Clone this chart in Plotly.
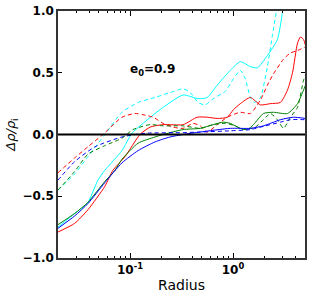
import math
import plotly.graph_objects as go

# ---- data (radius, delta rho / rho_i) ----
cyan_solid_r = [0.02, 0.029, 0.039, 0.0488, 0.057, 0.0836, 0.1045, 0.175, 0.21, 0.328, 0.459, 0.562, 0.703, 0.941, 1.178, 1.474, 1.725, 2.158, 2.70, 3.02, 3.16]
cyan_solid_v = [-0.75, -0.64, -0.55, -0.37, -0.29, -0.13, 0.01, 0.17, 0.22, 0.32, 0.29, 0.30, 0.40, 0.52, 0.59, 0.55, 0.54, 0.64, 0.77, 0.99, 1.10]

cyan_dash_r = [0.02, 0.029, 0.039, 0.057, 0.0836, 0.120, 0.175, 0.245, 0.328, 0.384, 0.459, 0.537, 0.643, 0.841, 1.007, 1.178, 1.318, 1.474, 1.61, 1.845, 2.158, 2.41, 2.64, 2.76]
cyan_dash_v = [-0.45, -0.32, -0.18, 0.0, 0.18, 0.26, 0.30, 0.34, 0.37, 0.34, 0.26, 0.24, 0.29, 0.35, 0.45, 0.52, 0.45, 0.30, 0.26, 0.30, 0.55, 0.80, 1.00, 1.10]

red_solid_r = [0.02, 0.029, 0.039, 0.057, 0.0683, 0.0894, 0.125, 0.157, 0.21, 0.328, 0.449, 0.562, 0.703, 0.881, 1.007, 1.178, 1.474, 1.845, 2.307, 2.89, 3.38, 3.78, 4.23, 4.52, 4.84, 5.06]
red_solid_v = [-0.79, -0.72, -0.61, -0.42, -0.29, -0.18, 0.0, 0.06, 0.08, 0.08, 0.14, 0.14, 0.13, 0.14, 0.20, 0.25, 0.30, 0.24, 0.25, 0.26, 0.36, 0.50, 0.74, 0.79, 0.77, 0.72]

red_dash_r = [0.02, 0.029, 0.039, 0.0546, 0.0836, 0.112, 0.134, 0.168, 0.21, 0.262, 0.328, 0.410, 0.481, 0.562, 0.703, 0.881, 1.178, 1.474, 1.845, 2.158, 2.468, 3.09, 3.61, 4.23, 5.06]
red_dash_v = [-0.31, -0.19, -0.10, 0.0, 0.14, 0.17, 0.16, 0.14, 0.09, 0.06, 0.05, 0.09, 0.07, 0.02, 0.08, 0.14, 0.18, 0.17, 0.28, 0.40, 0.49, 0.61, 0.66, 0.68, 0.71]

green_solid_r = [0.02, 0.029, 0.039, 0.057, 0.0715, 0.0836, 0.120, 0.175, 0.21, 0.328, 0.481, 0.643, 0.805, 0.941, 1.178, 1.38, 1.58, 1.973, 2.468, 3.38, 4.23, 4.84, 5.06]
green_solid_v = [-0.73, -0.64, -0.55, -0.38, -0.29, -0.20, -0.07, -0.02, 0.0, 0.04, 0.05, 0.08, 0.10, 0.09, 0.05, 0.04, 0.08, 0.17, 0.18, 0.17, 0.25, 0.36, 0.40]

green_dash_r = [0.02, 0.029, 0.039, 0.057, 0.0836, 0.107, 0.157, 0.21, 0.328, 0.481, 0.643, 0.841, 1.05, 1.26, 1.649, 1.973, 2.307, 2.70, 3.09, 3.61, 4.23, 4.84, 5.06]
green_dash_v = [-0.45, -0.30, -0.16, -0.09, -0.03, 0.04, 0.08, 0.07, 0.07, 0.05, 0.08, 0.09, 0.07, 0.04, 0.06, 0.12, 0.17, 0.12, 0.05, 0.14, 0.22, 0.44, 0.48]

blue_solid_r = [0.02, 0.029, 0.039, 0.057, 0.0836, 0.120, 0.175, 0.245, 0.328, 0.481, 0.941, 1.474, 1.973, 2.89, 3.86, 5.06]
blue_solid_v = [-0.76, -0.66, -0.56, -0.39, -0.23, -0.13, -0.06, -0.02, 0.0, 0.02, 0.05, 0.05, 0.07, 0.12, 0.14, 0.13]

blue_dash_r = [0.02, 0.029, 0.0456, 0.0836, 0.140, 0.328, 0.481, 0.941, 1.474, 2.06, 2.89, 3.61, 5.06]
blue_dash_v = [-0.37, -0.22, -0.10, -0.02, 0.01, 0.015, 0.02, 0.03, 0.04, 0.07, 0.10, 0.12, 0.12]

y_ticks = [-1.0, -0.5, 0.0, 0.5, 1.0]
y_tick_text = ["\u22121.0", "\u22120.5", "0.0", "0.5", "1.0"]
x_ticks = [0.1, 1.0]
x_tick_text = ["10<sup>-1</sup>", "10<sup>0</sup>"]
x_minor = [0.03, 0.04, 0.05, 0.06, 0.07, 0.08, 0.09, 0.2, 0.3, 0.4, 0.5, 0.6, 0.7, 0.8, 0.9, 2, 3, 4]

label_r, label_v = 0.164, 0.52

series = [
    (cyan_dash_r, cyan_dash_v, "#00FFFF", "4px,3px"),
    (cyan_solid_r, cyan_solid_v, "#00FFFF", "solid"),
    (red_dash_r, red_dash_v, "#FF0000", "4px,3px"),
    (red_solid_r, red_solid_v, "#FF0000", "solid"),
    (green_dash_r, green_dash_v, "#008000", "4px,3px"),
    (green_solid_r, green_solid_v, "#008000", "solid"),
    (blue_dash_r, blue_dash_v, "#0000FF", "4px,3px"),
    (blue_solid_r, blue_solid_v, "#0000FF", "solid"),
]

fig = go.Figure()
for r, v, c, d in series:
    fig.add_trace(go.Scatter(x=r, y=v, mode="lines",
                             line=dict(color=c, width=1, dash=d, shape="spline", smoothing=0.6),
                             showlegend=False, hoverinfo="skip"))

fig.add_hline(y=0, line=dict(color="black", width=2))

fig.add_annotation(x=math.log10(label_r), y=label_v, xref="x", yref="y", text="<b>e<sub>0</sub>=0.9</b>",
                   showarrow=False, font=dict(family="DejaVu Sans", size=12, color="black"))

fig.update_xaxes(type="log", range=[-1.699, 0.699], showline=True, linecolor="#333",
                 linewidth=1.5, mirror="ticks", ticks="inside", ticklen=5, tickwidth=1.2,
                 tickcolor="black", tickvals=x_ticks, ticktext=x_tick_text, automargin=False,
                 tickfont=dict(family="DejaVu Sans", size=12, color="black", weight="bold"),
                 showgrid=False, zeroline=False,
                 minor=dict(ticks="inside", ticklen=2.5, tickvals=x_minor, tickcolor="black", showgrid=False),
                 title=dict(text="Radius", font=dict(family="DejaVu Sans", size=14, color="black"), standoff=4))
fig.update_yaxes(range=[-1.0005, 1.0005], showline=True, linecolor="#333", linewidth=1.5,
                 mirror="ticks", ticks="inside", ticklen=4, tickwidth=1.2, tickcolor="black",
                 tickvals=y_ticks, ticktext=y_tick_text, ticklabeloverflow="allow", automargin=False,
                 tickfont=dict(family="DejaVu Sans", size=12, color="black", weight="bold"),
                 showgrid=False, zeroline=False,
                 title=dict(text="<i>\u0394\u03c1/\u03c1</i><sub>i</sub>", font=dict(family="DejaVu Sans", size=13, color="black"), standoff=4))

fig.update_layout(width=310, height=298, margin=dict(l=58, r=5, t=11, b=40),
                  plot_bgcolor="white", paper_bgcolor="white")

fig.write_html("out.html", config={"displayModeBar": False},
               post_script="document.body.style.margin='0';document.body.style.overflow='hidden';")
